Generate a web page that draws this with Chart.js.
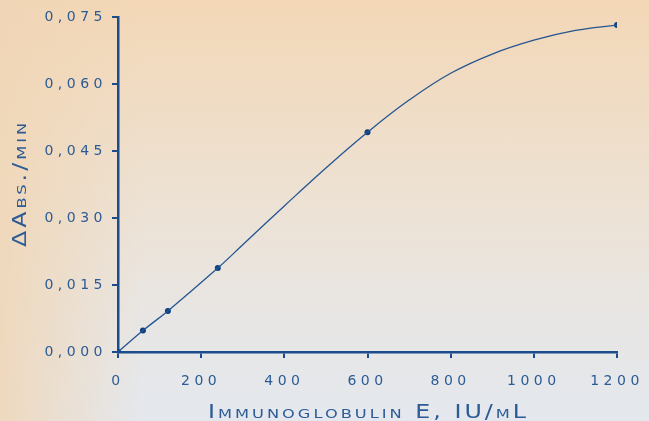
<!DOCTYPE html>
<html>
<head>
<meta charset="utf-8">
<script src="https://cdn.jsdelivr.net/npm/chart.js@4.4.1/dist/chart.umd.min.js"></script>
<style>
html,body{margin:0;padding:0;width:649px;height:421px;overflow:hidden;}
body{
  background:
    linear-gradient(90deg, rgba(240,214,182,0.85) 0%, rgba(240,214,182,0.0) 22%),
    linear-gradient(180deg, #f3d7b6 0%, #eee0cf 40%, #e8e6e4 75%, #e4e8ee 100%);
}
canvas{position:absolute;left:0;top:0;}
</style>
</head>
<body>
<canvas id="c" width="649" height="421"></canvas>
<script>
// measured standards (markers)
const stdConc = [0, 60, 120, 240, 600, 1200];
const stdRate = [0, 0.0048, 0.0092, 0.0188, 0.0492, 0.0732];

// fitted curve
const curveConc = [0, 60, 120, 240, 300, 400, 500, 600, 700, 800, 900, 1000, 1100, 1200];
const curveRate = [0, 0.0048, 0.0092, 0.0188, 0.0240, 0.0327, 0.0412, 0.0492, 0.0564, 0.0624, 0.0667, 0.0698, 0.0720, 0.0732];

const yTicks = [0, 0.015, 0.030, 0.045, 0.060, 0.075];
const xTicks = [0, 200, 400, 600, 800, 1000, 1200];
const xTitle = 'Immunoglobulin E, IU/mL';
const yTitle = '\u0394Abs./min';

const AXIS = '#1d4c8c';
const TEXT = '#2c5b95';
const MARK = '#0e3f7e';
const FAM = '"DejaVu Sans", Verdana, sans-serif';
const TICK_LS = 4.5;

// wide (stretched) small-caps title
function wideText(ctx, text, x, y, rot){
  ctx.save();
  ctx.translate(x, y);
  if (rot) ctx.rotate(rot);
  ctx.scale(1.25, 1);
  ctx.fillText(text, 0, 0);
  ctx.restore();
}

// wide lettering for the ticks, and the two titles drawn by hand
const lettering = {
  id: 'lettering',
  beforeUpdate(chart){ chart.ctx.letterSpacing = TICK_LS + 'px'; },
  beforeDraw(chart){ chart.ctx.letterSpacing = TICK_LS + 'px'; },
  afterDraw(chart){
    const ctx = chart.ctx, a = chart.chartArea;
    ctx.save();
    ctx.fillStyle = TEXT;
    ctx.font = '19px ' + FAM;
    ctx.fontVariantCaps = 'small-caps';
    ctx.textAlign = 'center';
    ctx.textBaseline = 'alphabetic';
    ctx.letterSpacing = '2.4px';
    wideText(ctx, xTitle, (a.left + a.right) / 2 + 1, 418, 0);
    wideText(ctx, yTitle, 26, (a.top + a.bottom) / 2 - 1, -Math.PI / 2);
    ctx.restore();
  }
};

const noPad = s => { s.paddingLeft = 0; s.paddingRight = 0; s.paddingTop = 0; s.paddingBottom = 0; };

new Chart(document.getElementById('c'), {
  type: 'scatter',
  data: {
    datasets: [
      {
        data: curveConc.map((x,i)=>({x, y: curveRate[i]})),
        showLine: true, borderColor: '#245592', borderWidth: 1.3,
        pointRadius: 0, tension: 0.4, fill: false
      },
      {
        data: stdConc.map((x,i)=>({x, y: stdRate[i]})),
        showLine: false, pointRadius: 3, pointBackgroundColor: MARK,
        pointBorderWidth: 0, pointBorderColor: MARK
      }
    ]
  },
  options: {
    responsive: false, animation: false, devicePixelRatio: 1,
    layout: { padding: { top: 17, right: 32, left: 0, bottom: 0 } },
    plugins: { legend: { display: false }, tooltip: { enabled: false } },
    scales: {
      x: {
        type: 'linear', min: 0, max: 1200,
        afterBuildTicks: s => { s.ticks = xTicks.map(v=>({value:v})); },
        afterFit: s => { s.height = 69; noPad(s); },
        border: { color: AXIS, width: 2.5 },
        grid: { drawOnChartArea: false, drawTicks: true, tickLength: 6, color: AXIS, lineWidth: 2 },
        ticks: { color: TEXT, font: { family: FAM, size: 14 }, padding: 15, maxRotation: 0,
                 callback: v => String(v) }
      },
      y: {
        type: 'linear', min: 0, max: 0.075,
        afterBuildTicks: s => { s.ticks = yTicks.map(v=>({value:v})); },
        afterFit: s => { s.width = 118; noPad(s); },
        border: { color: AXIS, width: 2.5 },
        grid: { drawOnChartArea: false, drawTicks: true, tickLength: 6, color: AXIS, lineWidth: 2 },
        ticks: { color: TEXT, font: { family: FAM, size: 14 }, padding: 5,
                 callback: v => v.toFixed(3).replace('.', ',') }
      }
    }
  },
  plugins: [lettering]
});
</script>
</body>
</html>
